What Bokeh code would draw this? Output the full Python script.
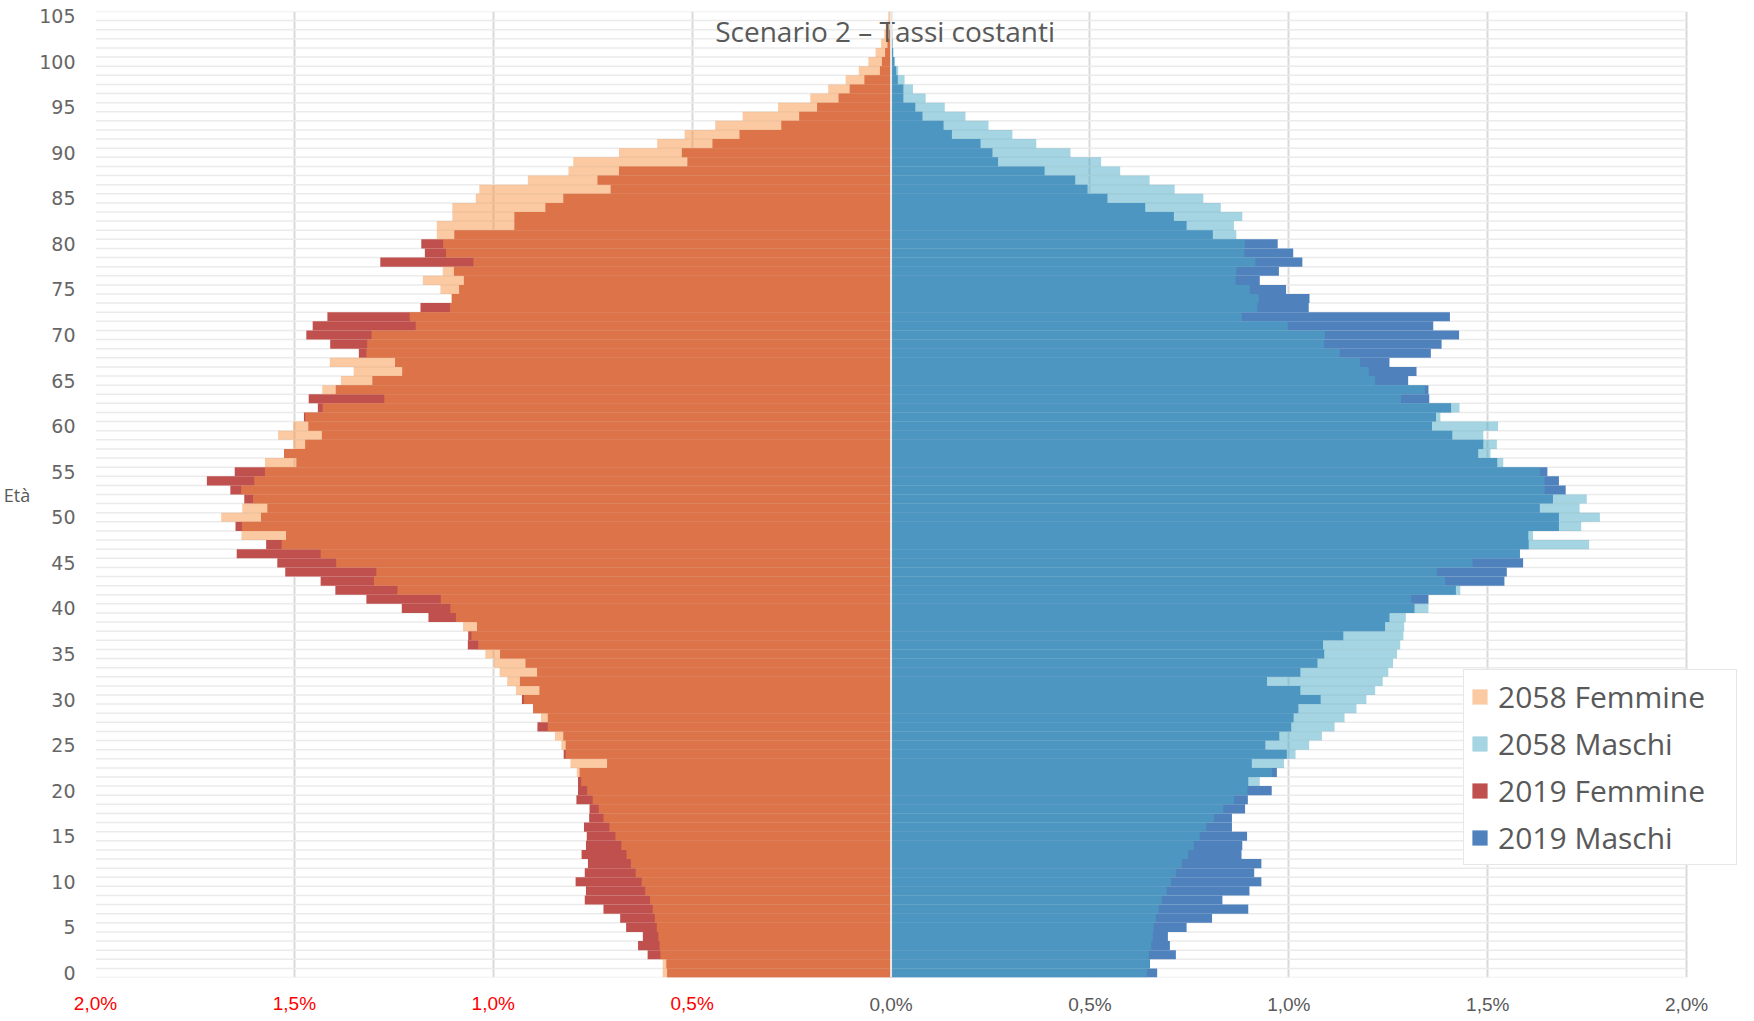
from bokeh.plotting import figure
from bokeh.models import (ColumnDataSource, FixedTicker, LinearAxis, CustomJSTickFormatter,
                          Range1d, Legend, LegendItem, Span)
from bokeh.core.properties import value
from bokeh.embed import file_html
from bokeh.resources import INLINE

# ---------------- data (percent of total population, by single year of age) ----------------
ages = list(range(0, 106))

f2019 = [0.563, 0.565, 0.612, 0.636, 0.624, 0.666, 0.681, 0.723, 0.770, 0.767,
         0.793, 0.770, 0.762, 0.778, 0.767, 0.765, 0.772, 0.759, 0.758, 0.791,
         0.787, 0.787, 0.783, 0.714, 0.823, 0.818, 0.824, 0.889, 0.863, 0.900,
         0.928, 0.884, 0.933, 0.890, 0.919, 0.983, 1.064, 1.063, 1.041, 1.163,
         1.230, 1.319, 1.397, 1.434, 1.523, 1.543, 1.645, 1.571, 1.521, 1.648,
         1.584, 1.568, 1.626, 1.661, 1.720, 1.650, 1.495, 1.526, 1.473, 1.431,
         1.465, 1.476, 1.441, 1.464, 1.396, 1.304, 1.229, 1.247, 1.338, 1.410,
         1.470, 1.454, 1.417, 1.183, 1.104, 1.086, 1.074, 1.099, 1.284, 1.172,
         1.181, 1.098, 0.947, 0.947, 0.869, 0.824, 0.705, 0.738, 0.684, 0.512,
         0.526, 0.449, 0.381, 0.276, 0.231, 0.186, 0.132, 0.104, 0.067, 0.028,
         0.023, 0.015, 0.009, 0.005, 0.003, 0.001]

f2058 = [0.574, 0.574, 0.580, 0.582, 0.585, 0.589, 0.594, 0.599, 0.606, 0.618,
         0.627, 0.642, 0.654, 0.665, 0.678, 0.693, 0.708, 0.723, 0.735, 0.750,
         0.764, 0.779, 0.790, 0.806, 0.818, 0.829, 0.845, 0.863, 0.880, 0.900,
         0.923, 0.943, 0.965, 0.984, 0.999, 1.020, 1.038, 1.055, 1.076, 1.094,
         1.108, 1.132, 1.241, 1.300, 1.294, 1.395, 1.434, 1.532, 1.633, 1.632,
         1.684, 1.631, 1.604, 1.634, 1.601, 1.574, 1.574, 1.526, 1.503, 1.541,
         1.503, 1.473, 1.429, 1.274, 1.430, 1.383, 1.351, 1.411, 1.319, 1.317,
         1.306, 1.195, 1.210, 1.109, 1.106, 1.133, 1.177, 1.127, 1.050, 1.119,
         1.126, 1.142, 1.142, 1.103, 1.103, 1.044, 1.035, 0.913, 0.811, 0.799,
         0.684, 0.588, 0.519, 0.442, 0.373, 0.284, 0.203, 0.158, 0.114, 0.081,
         0.057, 0.039, 0.025, 0.017, 0.009, 0.007]

m2019 = [0.669, 0.651, 0.716, 0.701, 0.696, 0.743, 0.807, 0.898, 0.833, 0.901,
         0.931, 0.913, 0.931, 0.881, 0.883, 0.895, 0.857, 0.857, 0.890, 0.897,
         0.957, 0.898, 0.970, 0.907, 0.995, 0.941, 0.976, 1.006, 1.012, 1.024,
         1.080, 1.029, 0.945, 1.029, 1.072, 1.089, 1.086, 1.137, 1.242, 1.253,
         1.316, 1.351, 1.420, 1.542, 1.548, 1.589, 1.581, 1.603, 1.602, 1.679,
         1.679, 1.631, 1.664, 1.696, 1.679, 1.650, 1.524, 1.476, 1.489, 1.411,
         1.360, 1.370, 1.408, 1.353, 1.351, 1.300, 1.321, 1.253, 1.357, 1.384,
         1.428, 1.363, 1.405, 1.050, 1.052, 0.993, 0.927, 0.975, 1.034, 1.011,
         0.972, 0.809, 0.743, 0.711, 0.639, 0.544, 0.494, 0.463, 0.386, 0.269,
         0.255, 0.225, 0.153, 0.132, 0.079, 0.061, 0.031, 0.031, 0.017, 0.013,
         0.008, 0.005, 0.003, 0.002, 0.001, 0.000]

m2058 = [0.643, 0.650, 0.648, 0.654, 0.658, 0.660, 0.666, 0.673, 0.681, 0.693,
         0.704, 0.716, 0.731, 0.747, 0.761, 0.776, 0.793, 0.812, 0.835, 0.862,
         0.896, 0.927, 0.958, 0.988, 1.017, 1.051, 1.083, 1.115, 1.140, 1.170,
         1.195, 1.217, 1.236, 1.250, 1.262, 1.272, 1.280, 1.288, 1.290, 1.294,
         1.351, 1.308, 1.431, 1.393, 1.372, 1.462, 1.581, 1.755, 1.614, 1.735,
         1.782, 1.731, 1.749, 1.643, 1.643, 1.631, 1.539, 1.507, 1.523, 1.489,
         1.526, 1.381, 1.429, 1.282, 1.342, 1.217, 1.201, 1.179, 1.128, 1.088,
         1.091, 0.997, 0.882, 0.921, 0.924, 0.902, 0.866, 0.868, 0.916, 0.888,
         0.889, 0.868, 0.862, 0.883, 0.829, 0.785, 0.713, 0.650, 0.576, 0.528,
         0.451, 0.365, 0.305, 0.245, 0.187, 0.135, 0.087, 0.055, 0.034, 0.018,
         0.010, 0.006, 0.004, 0.003, 0.002, 0.001]

series_names = ["2058 Femmine", "2058 Maschi", "2019 Femmine", "2019 Maschi"]
x_ticks_left = [-2.0, -1.5, -1.0, -0.5]
x_ticks_right = [0.0, 0.5, 1.0, 1.5, 2.0]
y_ticks = list(range(0, 106, 5))
title_text = "Scenario 2 – Tassi costanti"

# ---------------- figure ----------------
src = ColumnDataSource(dict(
    age=ages,
    f19=[-v for v in f2019],
    f58=[-v for v in f2058],
    m19=m2019,
    m58=m2058,
    zero=[0.0] * len(ages),
))

GRAY = "#595959"
X_MIN, X_MAX = x_ticks_left[0], x_ticks_right[-1]

p = figure(frame_width=1646, frame_height=966,
           x_range=Range1d(X_MIN, 2.138), y_range=Range1d(-0.5, 105.5),
           output_backend="svg", toolbar_location=None,
           min_border_left=95, min_border_right=0, min_border_top=11, min_border_bottom=0,
           outline_line_color=None, background_fill_color="white")

# vertical grid lines
p.xgrid.ticker = FixedTicker(ticks=x_ticks_left + x_ticks_right)
p.xgrid.grid_line_color = "#D9D9D9"
p.xgrid.grid_line_width = 2
p.ygrid.visible = False

# horizontal category separators, only across the -2%..2% plotting area
sep_y = [a - 0.5 for a in ages] + [ages[-1] + 0.5]
p.segment(x0=[X_MIN] * len(sep_y), x1=[X_MAX] * len(sep_y), y0=sep_y, y1=sep_y,
          line_color="#EBEBEB", line_width=1.5)

# bars: 2019 opaque, 2058 semi-transparent on top
r_f19 = p.hbar(y="age", left="f19", right="zero", height=1.0, source=src,
               fill_color="#C0504D", line_color=None)
r_m19 = p.hbar(y="age", left="zero", right="m19", height=1.0, source=src,
               fill_color="#4F81BD", line_color=None)
r_f58 = p.hbar(y="age", left="f58", right="zero", height=1.0, source=src,
               fill_color="#F79646", fill_alpha=0.5, line_color=None)
r_m58 = p.hbar(y="age", left="zero", right="m58", height=1.0, source=src,
               fill_color="#4BACC6", fill_alpha=0.5, line_color=None)

p.add_layout(Span(location=0, dimension="height", line_color="#E8E8E8", line_width=2))

# chart title, at the top of the plot area
p.text(x=[-0.015], y=[105.45], text=[title_text], text_align="center",
       text_baseline="top", text_font=value("Open Sans"),
       text_font_size="28px", text_color=GRAY)

# y axis
yax = p.yaxis[0]
yax.ticker = FixedTicker(ticks=y_ticks)
yax.axis_line_color = None
yax.major_tick_line_color = None
yax.minor_tick_line_color = None
yax.major_label_text_font = "DejaVu Sans"
yax.major_label_text_font_size = "19px"
yax.major_label_text_color = "#666666"
yax.major_label_standoff = 14
yax.axis_label = "Età"
yax.axis_label_orientation = "horizontal"
yax.axis_label_text_font = "Open Sans"
yax.axis_label_text_font_size = "18px"
yax.axis_label_text_font_style = "normal"
yax.axis_label_text_color = GRAY
yax.axis_label_standoff = 6

fmt_code = "return Math.abs(tick).toFixed(1).replace('.', ',') + '%'"

# x axis (right half, gray labels)
xax = p.xaxis[0]
xax.ticker = FixedTicker(ticks=x_ticks_right)
xax.formatter = CustomJSTickFormatter(code=fmt_code)
xax.axis_line_color = None
xax.major_tick_line_color = None
xax.minor_tick_line_color = None
xax.major_label_text_font = "Liberation Sans"
xax.major_label_text_font_size = "19px"
xax.major_label_text_color = GRAY
xax.major_label_standoff = 10

# x axis (left half, red labels), pulled up onto the same line
xax2 = LinearAxis(ticker=FixedTicker(ticks=x_ticks_left),
                  formatter=CustomJSTickFormatter(code=fmt_code),
                  axis_line_color=None, major_tick_line_color=None, minor_tick_line_color=None,
                  major_label_text_font="Liberation Sans", major_label_text_font_size="19px",
                  major_label_text_color="#FF0000", major_label_standoff=-31)
p.add_layout(xax2, "below")

# legend
legend = Legend(items=[
    LegendItem(label=series_names[0], renderers=[r_f58]),
    LegendItem(label=series_names[1], renderers=[r_m58]),
    LegendItem(label=series_names[2], renderers=[r_f19]),
    LegendItem(label=series_names[3], renderers=[r_m19]),
], location=(1368, 112))
legend.label_text_font = "Open Sans"
legend.label_text_font_size = "30px"
legend.label_text_color = GRAY
legend.glyph_width = 19
legend.glyph_height = 19
legend.label_height = 30
legend.label_width = 232
legend.label_standoff = 9
legend.spacing = 6
legend.padding = 6
legend.margin = 0
legend.border_line_color = "#D0D0D0"
legend.border_line_width = 1
legend.background_fill_color = "white"
legend.background_fill_alpha = 1.0
p.add_layout(legend, "center")

open("out.html", "w").write(file_html(p, INLINE))
